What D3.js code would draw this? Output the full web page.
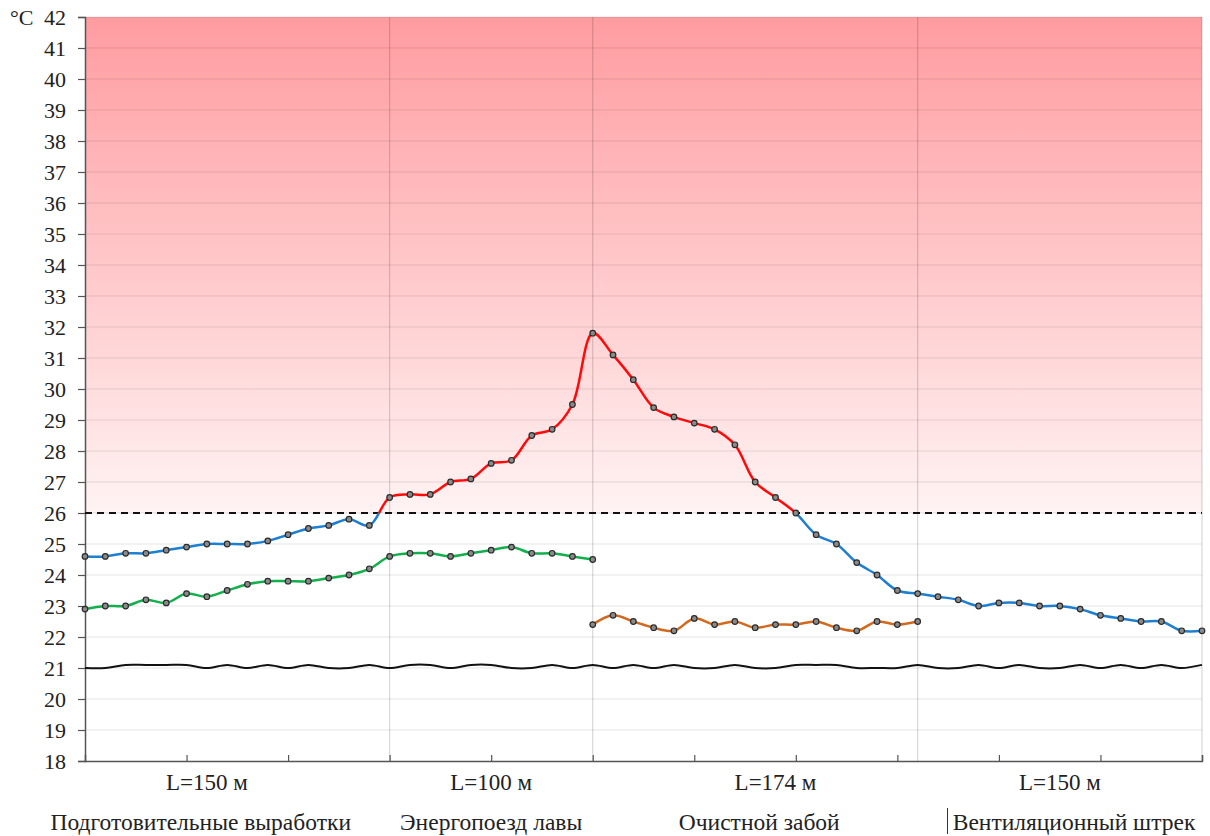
<!DOCTYPE html>
<html>
<head>
<meta charset="utf-8">
<script src="https://cdn.jsdelivr.net/npm/d3@7"></script>
<style>
  html, body { margin: 0; padding: 0; background: #fff; }
  svg { display: block; }
</style>
</head>
<body>
<svg id="chart" width="1210" height="836"></svg>
<script>
// Air temperature along the ventilation route, measurement stations 0..55
const stationCount = 56;

// Main air stream (red above the 26 °C limit, blue below it)
const mainAir = [24.6, 24.6, 24.7, 24.7, 24.8, 24.9, 25.0, 25.0, 25.0, 25.1, 25.3, 25.5, 25.6, 25.8, 25.6,
  26.5, 26.6, 26.6, 27.0, 27.1, 27.6, 27.7, 28.5, 28.7, 29.5,
  31.8, 31.1, 30.3, 29.4, 29.1, 28.9, 28.7, 28.2, 27.0, 26.5, 26.0, 25.3, 25.0, 24.4, 24.0, 23.5,
  23.4, 23.3, 23.2, 23.0, 23.1, 23.1, 23.0, 23.0, 22.9, 22.7, 22.6, 22.5, 22.5, 22.2, 22.2];

// Green series: stations 0..25
const greenStart = 0;
const greenSeries = [22.9, 23.0, 23.0, 23.2, 23.1, 23.4, 23.3, 23.5, 23.7, 23.8, 23.8, 23.8, 23.9, 24.0, 24.2,
  24.6, 24.7, 24.7, 24.6, 24.7, 24.8, 24.9, 24.7, 24.7, 24.6, 24.5];

// Orange series: stations 25..41
const orangeStart = 25;
const orangeSeries = [22.4, 22.7, 22.5, 22.3, 22.2, 22.6, 22.4, 22.5, 22.3, 22.4, 22.4, 22.5, 22.3, 22.2, 22.5, 22.4, 22.5];

// Black baseline series: stations 0..55
const baseSeries = [21.0, 21.0, 21.1, 21.1, 21.1, 21.1, 21.0, 21.1, 21.0, 21.1,
  21.0, 21.1, 21.0, 21.0, 21.1, 21.0, 21.1, 21.1, 21.0, 21.1,
  21.1, 21.0, 21.0, 21.1, 21.0, 21.1, 21.0, 21.1, 21.0, 21.1,
  21.0, 21.0, 21.1, 21.0, 21.0, 21.1, 21.1, 21.1, 21.0, 21.0,
  21.0, 21.1, 21.0, 21.0, 21.1, 21.0, 21.1, 21.0, 21.0, 21.1,
  21.0, 21.1, 21.0, 21.1, 21.0, 21.1];

const limitTemp = 26;
const yTicks = d3.range(18, 43);
const sectionBounds = [15, 25, 41, 55];
const lengthLabels = ["L=150 м", "L=100 м", "L=174 м", "L=150 м"];
const lengthAt = [6, 20, 34, 48];
const sectionNames = ["Подготовительные выработки", "Энергопоезд лавы", "Очистной забой", "Вентиляционный штрек"];
const nameAt = [5.7, 20, 33.2, 48.7];

const FONT = '"Liberation Serif"';
const svg = d3.select("#chart");
const plotLeft = 85, plotRight = 1202, plotTop = 17, plotBottom = 761;

const x = d3.scaleLinear().domain([0, stationCount - 1]).range([plotLeft, plotRight]);
const y = d3.scaleLinear().domain([18, 42]).range([plotBottom, plotTop]);

// Pink gradient of the over-limit zone
const defs = svg.append("defs");
const grad = defs.append("linearGradient").attr("id", "hot")
  .attr("x1", 0).attr("y1", 0).attr("x2", 0).attr("y2", 1);
grad.append("stop").attr("offset", "0%").attr("stop-color", "#ff9ca0");
grad.append("stop").attr("offset", "100%").attr("stop-color", "#fff3f3");

svg.append("rect")
  .attr("x", plotLeft).attr("y", y(42))
  .attr("width", plotRight - plotLeft).attr("height", y(limitTemp) - y(42))
  .attr("fill", "url(#hot)");

defs.append("clipPath").attr("id", "above").append("rect")
  .attr("x", 0).attr("y", 0).attr("width", 1210).attr("height", y(limitTemp));
defs.append("clipPath").attr("id", "below").append("rect")
  .attr("x", 0).attr("y", y(limitTemp)).attr("width", 1210).attr("height", 836);

// Horizontal grid
svg.append("g").selectAll("line").data(yTicks.filter(t => t > 18)).join("line")
  .attr("x1", plotLeft).attr("x2", plotRight)
  .attr("y1", d => y(d)).attr("y2", d => y(d))
  .attr("stroke", "rgba(0,0,0,0.1)").attr("stroke-width", 1.2);

// Section boundary lines
svg.append("g").selectAll("line").data(sectionBounds).join("line")
  .attr("x1", d => x(d)).attr("x2", d => x(d))
  .attr("y1", plotTop).attr("y2", plotBottom)
  .attr("stroke", "rgba(0,0,0,0.16)").attr("stroke-width", 1.2);

// Y axis
const yAxis = d3.axisLeft(y).tickValues(yTicks).tickSize(7).tickPadding(12).tickFormat(d3.format("d"));
const gy = svg.append("g").attr("transform", `translate(${plotLeft},0)`).call(yAxis)
  .attr("font-family", null).attr("font-size", null);
gy.select(".domain").attr("stroke", "#555").attr("stroke-width", 1.5);
gy.selectAll(".tick line").attr("stroke", "#555").attr("stroke-width", 1.2);
gy.selectAll(".tick text").style("font-family", FONT).style("font-size", "22px").attr("fill", "#222");

svg.append("text").attr("x", 10).attr("y", 25)
  .style("font-family", FONT).style("font-size", "22px").attr("fill", "#222").text("°C");

// X axis (ticks every 5 stations, pointing inward)
const xAxis = d3.axisBottom(x).tickValues(d3.range(5, stationCount, 5)).tickSize(-6).tickFormat("");
const gx = svg.append("g").attr("transform", `translate(0,${plotBottom})`).call(xAxis);
gx.select(".domain").attr("stroke", "#555").attr("stroke-width", 1.5);
gx.selectAll(".tick line").attr("stroke", "#555").attr("stroke-width", 1.2);

// Section labels
svg.selectAll("text.len").data(lengthLabels).join("text").attr("class", "len")
  .attr("x", (d, i) => x(lengthAt[i])).attr("y", 790)
  .attr("text-anchor", "middle").style("font-family", FONT).style("font-size", "23px").attr("fill", "#222")
  .text(d => d);
svg.selectAll("text.sect").data(sectionNames).join("text").attr("class", "sect")
  .attr("x", (d, i) => x(nameAt[i])).attr("y", 830)
  .attr("text-anchor", "middle").style("font-family", FONT).style("font-size", "23.5px").attr("fill", "#222")
  .text(d => d);

// Divider in front of the last section name
svg.append("line")
  .attr("x1", 947.5).attr("x2", 947.5).attr("y1", 808).attr("y2", 834)
  .attr("stroke", "#333").attr("stroke-width", 1);

// 26 °C limit
svg.append("line")
  .attr("x1", plotLeft).attr("x2", plotRight)
  .attr("y1", y(limitTemp)).attr("y2", y(limitTemp))
  .attr("stroke", "#111").attr("stroke-width", 2).attr("stroke-dasharray", "7,5");

const curve = d3.curveCatmullRom.alpha(0.5);
const line = d3.line().x(d => x(d.i)).y(d => y(d.v)).curve(curve);
const toPoints = (arr, start) => arr.map((v, k) => ({ i: start + k, v }));

const mainPts = toPoints(mainAir, 0);
const greenPts = toPoints(greenSeries, greenStart);
const orangePts = toPoints(orangeSeries, orangeStart);
const basePts = toPoints(baseSeries, 0);

// Baseline
svg.append("path").attr("d", line(basePts))
  .attr("fill", "none").attr("stroke", "#111").attr("stroke-width", 2);

function drawSeries(pts, color, clip) {
  const p = svg.append("path").attr("d", line(pts))
    .attr("fill", "none").attr("stroke", color).attr("stroke-width", 2.5)
    .attr("stroke-linejoin", "round");
  if (clip) p.attr("clip-path", `url(#${clip})`);
}
drawSeries(greenPts, "#12b04c");
drawSeries(orangePts, "#d2691e");
drawSeries(mainPts, "#ff0a0a", "above");
drawSeries(mainPts, "#1e7fd2", "below");

function drawMarkers(pts) {
  svg.append("g").selectAll("circle").data(pts).join("circle")
    .attr("cx", d => x(d.i)).attr("cy", d => y(d.v)).attr("r", 2.8)
    .attr("fill", "#8a8a8a").attr("stroke", "#2a2a2a").attr("stroke-width", 1.2);
}
drawMarkers(greenPts);
drawMarkers(orangePts);
drawMarkers(mainPts);
</script>
</body>
</html>
